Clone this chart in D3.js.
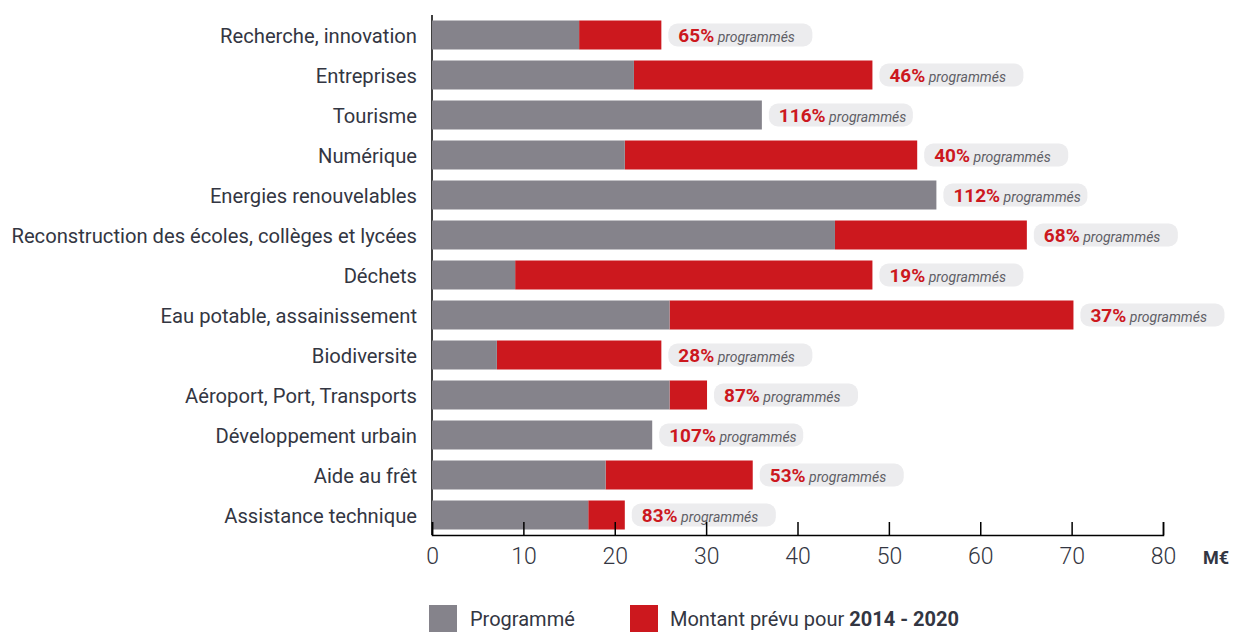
<!DOCTYPE html>
<html><head><meta charset="utf-8">
<script src="https://cdn.jsdelivr.net/npm/d3@7"></script>
<style>
body{margin:0;background:#fff;}
svg{display:block;font-family:Roboto,"Open Sans",sans-serif;}
</style></head>
<body><svg id="c" width="1236" height="632"></svg>
<script>
const categories = ["Recherche, innovation","Entreprises","Tourisme","Numérique","Energies renouvelables","Reconstruction des écoles, collèges et lycées","Déchets","Eau potable, assainissement","Biodiversite","Aéroport, Port, Transports","Développement urbain","Aide au frêt","Assistance technique"];
const programme = [16.1, 22.1, 36.1, 21.1, 55.2, 44.1, 9.1, 26.0, 7.1, 26.0, 24.1, 19.0, 17.1];
const prevu     = [25.1, 48.2, 31.1, 53.1, 49.3, 65.1, 48.2, 70.2, 25.1, 30.1, 22.5, 35.1, 21.1];
const pctLabels = ["65%","46%","116%","40%","112%","68%","19%","37%","28%","87%","107%","53%","83%"];
const xTicks = [0,10,20,30,40,50,60,70,80];

const GREY="#85838b", RED="#cc181e", TXT="#333642";
const svg = d3.select("#c");
const x = d3.scaleLinear().domain([0,80]).range([432,1163]);
const y = d3.scaleBand().domain(categories).range([15,535]).paddingInner(0.275).paddingOuter(0.1375);

// y axis line
svg.append("line").attr("x1",x(0)).attr("x2",x(0)).attr("y1",15).attr("y2",535)
  .attr("stroke","#000").attr("stroke-width",1.5);

const rows = categories.map((c,i)=>({c, p:programme[i], t:prevu[i], lab:pctLabels[i]}));

svg.append("g").selectAll("rect").data(rows.filter(d=>d.t>d.p)).join("rect")
  .attr("x",d=>x(d.p)).attr("y",d=>y(d.c)).attr("height",y.bandwidth())
  .attr("width",d=>x(d.t)-x(d.p)).attr("fill",RED);
svg.append("g").selectAll("rect").data(rows).join("rect")
  .attr("x",x(0)).attr("y",d=>y(d.c)).attr("height",y.bandwidth())
  .attr("width",d=>x(d.p)-x(0)).attr("fill",GREY);

// pills
const pills = svg.append("g").selectAll("g").data(rows).join("g")
  .attr("transform",d=>`translate(${x(Math.max(d.p,d.t))+7},${y(d.c)+y.bandwidth()/2})`);
pills.append("rect").attr("x",0).attr("y",-11.5).attr("width",144).attr("height",23).attr("rx",9).attr("fill","#ececee");
const pt = pills.append("text").attr("x",10).attr("y",6.5);
pt.append("tspan").text(d=>d.lab).attr("fill",RED).attr("font-weight","bold").attr("font-size",19);
pt.append("tspan").text(" programmés").attr("fill","#5f5f66").attr("font-style","italic").attr("font-size",14);

// category labels
svg.append("g").selectAll("text").data(rows).join("text")
  .attr("x",417).attr("y",d=>y(d.c)+y.bandwidth()/2+7.5)
  .attr("text-anchor","end").attr("fill",TXT).attr("font-size",20.2).text(d=>d.c);

// x axis
const ax = svg.append("g").attr("transform","translate(0,535)")
  .call(d3.axisBottom(x).tickValues(xTicks).tickSize(-13).tickPadding(13));
ax.select(".domain").attr("stroke","#000").attr("stroke-width",1.5);
ax.selectAll(".tick line").attr("stroke","#000").attr("stroke-width",1.5);
ax.selectAll(".tick text").attr("font-size",23).attr("fill",TXT).attr("font-family","Roboto,sans-serif").attr("font-weight",300);

svg.append("text").attr("x",1203).attr("y",564).attr("font-weight","bold").attr("font-size",18).attr("fill",TXT).text("M€");

// legend
const leg = svg.append("g");
leg.append("rect").attr("x",429).attr("y",605).attr("width",28).attr("height",30).attr("fill",GREY);
leg.append("text").attr("x",470).attr("y",626).attr("font-size",20).attr("fill",TXT).text("Programmé");
leg.append("rect").attr("x",630).attr("y",605).attr("width",28).attr("height",30).attr("fill",RED);
const lt = leg.append("text").attr("x",670).attr("y",626).attr("font-size",20).attr("fill",TXT);
lt.append("tspan").text("Montant prévu pour ");
lt.append("tspan").attr("font-weight","bold").text("2014 - 2020");
</script></body></html>
